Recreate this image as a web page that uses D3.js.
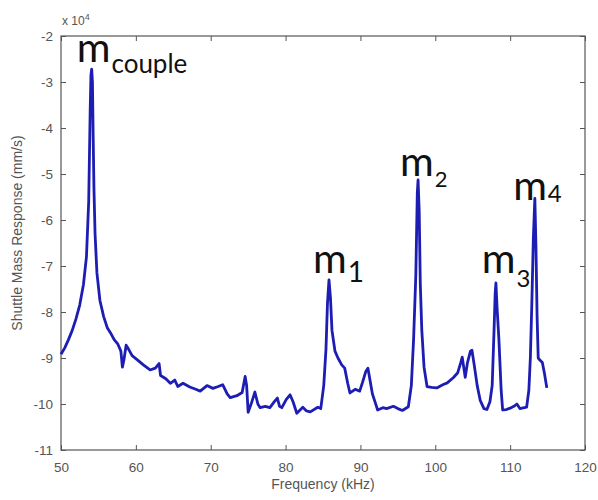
<!DOCTYPE html>
<html>
<head>
<meta charset="utf-8">
<script src="https://cdn.jsdelivr.net/npm/d3@7"></script>
<style>
  body { margin: 0; background: #fff; }
  svg { display: block; }
</style>
</head>
<body>
<svg id="canvas"></svg>
<script>
// measured response, frequency in kHz, response in units of 1e4 mm/s
const freq = [50.0,50.5,51.0,51.5,52.0,52.5,53.0,53.4,53.7,53.9,54.0,54.1,54.2,54.3,54.4,54.55,54.8,55.2,55.7,56.2,
  56.6,57.1,57.6,58.0,58.2,58.4,58.7,59.0,59.5,60.2,61.0,61.9,62.6,63.1,63.3,64.0,64.6,65.2,65.6,66.3,
  67.2,68.0,68.6,69.5,70.3,71.0,71.6,72.2,72.6,73.5,74.2,74.6,74.8,75.0,75.5,75.9,76.3,76.6,77.3,77.9,
  78.5,78.9,79.2,79.5,80.1,80.6,81.0,81.5,82.3,82.8,83.3,84.3,84.7,85.1,85.4,85.6,85.8,86.0,86.2,86.6,
  87.0,87.5,87.9,88.3,88.6,89.3,89.9,90.3,90.7,91.0,91.3,91.6,92.3,93.0,93.5,94.4,95.0,95.6,96.4,96.8,
  97.1,97.4,97.6,97.7,97.85,98.0,98.2,98.5,98.9,99.5,100.2,101.0,101.6,102.4,103.0,103.4,103.6,103.8,104.0,104.3,
  104.7,104.9,105.2,105.6,106.0,106.5,106.9,107.3,107.6,107.85,108.0,108.1,108.25,108.5,108.8,109.0,109.5,110.0,110.5,110.9,
  111.3,111.6,112.2,112.5,112.7,112.9,113.1,113.3,113.45,113.6,113.75,114.0,114.3,114.6,114.9];
const resp = [-8.92,-8.78,-8.60,-8.40,-8.15,-7.85,-7.40,-6.80,-5.60,-3.60,-2.85,-2.72,-3.00,-4.20,-5.30,-6.30,-7.15,-7.75,-8.10,-8.35,
  -8.45,-8.60,-8.70,-8.85,-9.20,-9.05,-8.72,-8.80,-8.95,-9.04,-9.15,-9.26,-9.22,-9.12,-9.38,-9.45,-9.55,-9.48,-9.62,-9.55,
  -9.63,-9.68,-9.72,-9.60,-9.66,-9.62,-9.58,-9.78,-9.86,-9.82,-9.75,-9.40,-9.60,-10.18,-9.95,-9.74,-10.00,-10.08,-10.05,-10.08,
  -9.95,-9.87,-10.05,-10.08,-9.90,-9.80,-9.95,-10.20,-10.07,-10.15,-10.17,-10.07,-10.10,-9.60,-8.80,-7.80,-7.30,-7.70,-8.40,-8.85,
  -9.00,-9.15,-9.22,-9.55,-9.76,-9.68,-9.72,-9.52,-9.30,-9.22,-9.50,-9.78,-10.13,-10.08,-10.10,-10.05,-10.10,-10.14,-10.06,-9.60,
  -8.60,-7.20,-5.40,-5.13,-5.80,-7.40,-8.40,-9.20,-9.62,-9.64,-9.65,-9.58,-9.54,-9.43,-9.32,-9.10,-8.98,-9.20,-9.42,-9.10,
  -8.85,-8.83,-9.15,-9.60,-9.92,-10.10,-10.12,-9.95,-9.60,-8.40,-7.60,-7.37,-7.90,-8.60,-9.70,-10.13,-10.12,-10.09,-10.05,-10.00,
  -10.10,-10.09,-10.07,-9.70,-9.00,-7.80,-6.40,-5.53,-6.60,-8.10,-9.00,-9.05,-9.10,-9.35,-9.65];

const xTicks = [50, 60, 70, 80, 90, 100, 110, 120];
const yTicks = [-11, -10, -9, -8, -7, -6, -5, -4, -3, -2];

// mode labels: main letter, subscript, anchor (kHz, 1e4 mm/s)
const modeNames = ['m', 'm', 'm', 'm', 'm'];
const modeSubs = ['couple', '1', '2', '3', '4'];
const modeX = [52.1, 83.66, 95.3, 106.2, 110.4];
const modeY = [-2.57, -7.15, -5.04, -7.15, -5.57];

const w = 598, h = 500;
const padL = 61, padR = 585, padT = 36, padB = 450;

const canvas = d3.select('#canvas').attr('width', w).attr('height', h);

const xScale = d3.scaleLinear().domain([50, 120]).range([padL, padR]);
const yScale = d3.scaleLinear().domain([-11, -2]).range([padB, padT]);

const axisColor = '#555';
const tickFont = '"Liberation Sans", Arial, sans-serif';

// frame
canvas.append('rect')
  .attr('x', padL).attr('y', padT)
  .attr('width', padR - padL).attr('height', padB - padT)
  .attr('fill', 'none').attr('stroke', axisColor).attr('stroke-width', 1.2);

let styleAxis = (g, labels) => {
  g.select('.domain').remove();
  g.selectAll('line').attr('stroke', axisColor).attr('stroke-width', 1);
  g.selectAll('text')
    .attr('fill', labels ? '#555' : 'none')
    .style('font-family', tickFont)
    .style('font-size', '13.5px');
};

// plain hyphen for negatives, as matlab prints them
let plain = d => String(d);

// ticks point inward, like the original plot
canvas.append('g').attr('transform', 'translate(0,' + padB + ')')
  .call(d3.axisBottom(xScale).tickValues(xTicks).tickSize(-5).tickPadding(12).tickFormat(plain))
  .call(g => styleAxis(g, true));
canvas.append('g').attr('transform', 'translate(0,' + padT + ')')
  .call(d3.axisTop(xScale).tickValues(xTicks).tickSize(-5).tickFormat(''))
  .call(g => styleAxis(g, false));
canvas.append('g').attr('transform', 'translate(' + padL + ',0)')
  .call(d3.axisLeft(yScale).tickValues(yTicks).tickSize(-5).tickPadding(8).tickFormat(plain))
  .call(g => styleAxis(g, true));
canvas.append('g').attr('transform', 'translate(' + padR + ',0)')
  .call(d3.axisRight(yScale).tickValues(yTicks).tickSize(-5).tickFormat(''))
  .call(g => styleAxis(g, false));

// exponent note
const expo = canvas.append('text')
  .attr('x', padL + 1).attr('y', 25)
  .attr('fill', '#555')
  .style('font-family', tickFont).style('font-size', '12px');
expo.append('tspan').text('x 10');
expo.append('tspan').attr('dy', -5).style('font-size', '9px').text('4');

// axis titles
canvas.append('text')
  .attr('x', (padL + padR) / 2).attr('y', 489)
  .attr('text-anchor', 'middle').attr('fill', '#555')
  .style('font-family', tickFont).style('font-size', '14px')
  .text('Frequency (kHz)');
canvas.append('text')
  .attr('transform', 'translate(22,' + 233 + ') rotate(-90)')
  .attr('text-anchor', 'middle').attr('fill', '#555')
  .style('font-family', tickFont).style('font-size', '14px')
  .text('Shuttle Mass Response (mm/s)');

// response curve
const pts = freq.map((f, i) => [f, resp[i]]);
const line = d3.line().x(d => xScale(d[0])).y(d => yScale(d[1]));
canvas.append('path')
  .datum(pts)
  .attr('d', line)
  .attr('fill', 'none')
  .attr('stroke', '#1d1db4')
  .attr('stroke-width', 2.8)
  .attr('stroke-linejoin', 'round');

// mode labels
const subSize = [26, 28, 22, 24, 24];
const subShift = [11, 9, 11, 14, 2];
modeNames.forEach((n, i) => {
  const t = canvas.append('text')
    .attr('x', xScale(modeX[i])).attr('y', yScale(modeY[i]))
    .attr('fill', '#111')
    .style('font-family', 'Lato, "Open Sans", sans-serif');
  t.append('tspan').style('font-size', '41px').text(n);
  t.append('tspan').attr('dx', 1).attr('dy', subShift[i])
    .style('font-size', subSize[i] + 'px').text(modeSubs[i]);
});
</script>
</body>
</html>
